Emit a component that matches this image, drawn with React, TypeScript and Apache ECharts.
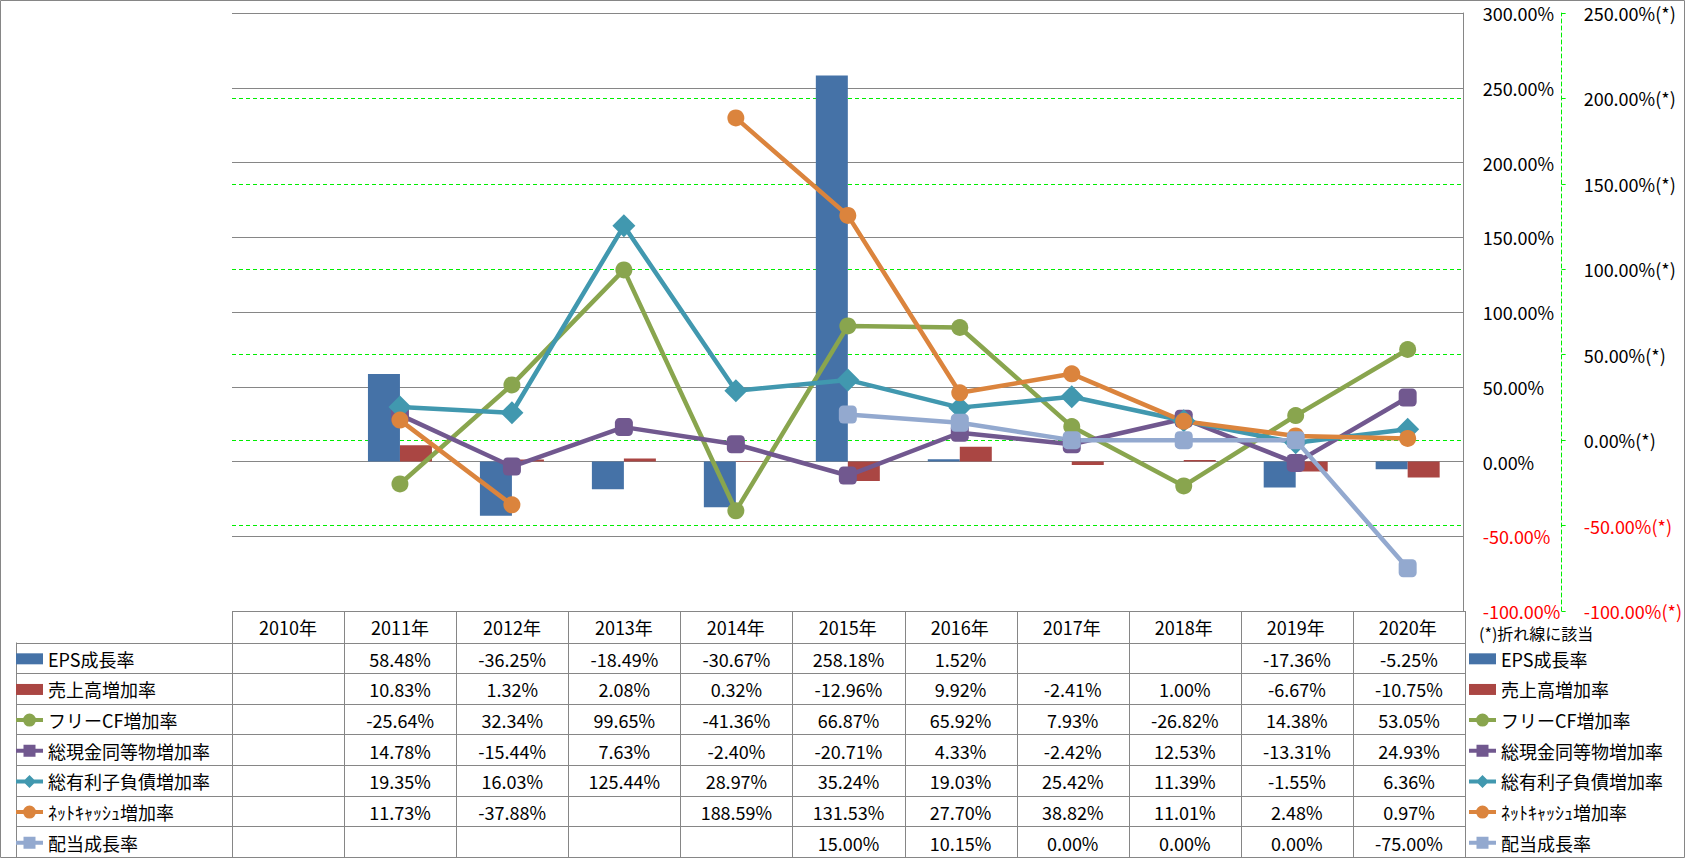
import React, { useEffect, useRef } from 'react';
import * as echarts from 'echarts';

const years = ['2010年', '2011年', '2012年', '2013年', '2014年', '2015年', '2016年', '2017年', '2018年', '2019年', '2020年'];

const epsGrowth = [null, 58.48, -36.25, -18.49, -30.67, 258.18, 1.52, null, null, -17.36, -5.25];
const salesGrowth = [null, 10.83, 1.32, 2.08, 0.32, -12.96, 9.92, -2.41, 1.0, -6.67, -10.75];
const freeCfGrowth = [null, -25.64, 32.34, 99.65, -41.36, 66.87, 65.92, 7.93, -26.82, 14.38, 53.05];
const cashGrowth = [null, 14.78, -15.44, 7.63, -2.4, -20.71, 4.33, -2.42, 12.53, -13.31, 24.93];
const debtGrowth = [null, 19.35, 16.03, 125.44, 28.97, 35.24, 19.03, 25.42, 11.39, -1.55, 6.36];
const netCashGrowth = [null, 11.73, -37.88, null, 188.59, 131.53, 27.7, 38.82, 11.01, 2.48, 0.97];
const dividendGrowth = [null, null, null, null, null, 15.0, 10.15, 0.0, 0.0, 0.0, -75.0];

const seriesNames = ['EPS成長率', '売上高増加率', 'フリーCF増加率', '総現金同等物増加率', '総有利子負債増加率', 'ﾈｯﾄｷｬｯｼｭ増加率', '配当成長率'];

const FONT = "'Noto Sans CJK JP', 'Noto Sans', sans-serif";

// legend key shapes (line + marker), drawn in a 27 x 13 box
const ICON_BAR = 'path://M0,1 L27,1 L27,12 L0,12 Z';
const ICON_LINE_CIRCLE =
  'path://M0,4.75 L27,4.75 L27,8.75 L0,8.75 Z M7,6.75 A6.5,6.5 0 1,1 20,6.75 A6.5,6.5 0 1,1 7,6.75 Z';
const ICON_LINE_SQUARE = 'path://M0,4.75 L27,4.75 L27,8.75 L0,8.75 Z M7.5,0.75 L19.5,0.75 L19.5,12.75 L7.5,12.75 Z';
const ICON_LINE_DIAMOND = 'path://M0,4.75 L27,4.75 L27,8.75 L0,8.75 Z M13.5,0.25 L20,6.75 L13.5,13.25 L7,6.75 Z';

export default function App() {
  const ref = useRef<HTMLDivElement>(null);

  useEffect(() => {
    const chart = echarts.init(ref.current!, null, { renderer: 'svg' });

    const W = 1685;
    const H = 858;
    const gridL = 232;
    const gridR = 1465;
    const gridT = 13;
    const gridB = 611;
    const colW = (gridR - gridL) / years.length;
    const headerB = 642.5;
    const tableBottom = 857;
    const rowH = (tableBottom - headerB) / 7;
    const gray = '#868686';
    const green = '#00ee00';

    const rows = [epsGrowth, salesGrowth, freeCfGrowth, cashGrowth, debtGrowth, netCashGrowth, dividendGrowth];

    const graphics: any[] = [];
    graphics.push({
      type: 'rect',
      shape: { x: 0.5, y: 0.5, width: W - 1, height: H - 1 },
      style: { fill: 'none', stroke: gray, lineWidth: 1 },
      silent: true,
    });
    graphics.push({
      type: 'line',
      shape: { x1: gridL, y1: gridB + 0.5, x2: gridR, y2: gridB + 0.5 },
      style: { stroke: gray, lineWidth: 1 },
      silent: true,
    });
    for (let k = 0; k < 7; k++) {
      const y = Math.round(headerB + k * rowH) + 0.5;
      graphics.push({
        type: 'line',
        shape: { x1: 16, y1: y, x2: gridR, y2: y },
        style: { stroke: gray, lineWidth: 1 },
        silent: true,
      });
    }
    graphics.push({
      type: 'line',
      shape: { x1: 16.5, y1: headerB, x2: 16.5, y2: tableBottom },
      style: { stroke: gray, lineWidth: 1 },
      silent: true,
    });
    for (let i = 0; i <= years.length; i++) {
      const x = Math.round(gridL + i * colW) + 0.5;
      graphics.push({
        type: 'line',
        shape: { x1: x, y1: gridB, x2: x, y2: tableBottom },
        style: { stroke: gray, lineWidth: 1 },
        silent: true,
      });
    }
    rows.forEach((row, r) => {
      row.forEach((v, i) => {
        if (v === null || v === undefined) return;
        graphics.push({
          type: 'text',
          x: gridL + (i + 0.5) * colW,
          y: headerB + (r + 0.5) * rowH + 1,
          style: {
            text: v.toFixed(2) + '%',
            fill: '#000',
            font: `18px ${FONT}`,
            align: 'center',
            verticalAlign: 'middle',
          },
          silent: true,
        });
      });
    });
    graphics.push({
      type: 'text',
      x: 1479,
      y: 633,
      style: {
        text: '(*)折れ線に該当',
        fill: '#000',
        font: `16px ${FONT}`,
        align: 'left',
        verticalAlign: 'middle',
      },
      silent: true,
    });

    const legendItemH = 18;
    const legendGap = rowH - legendItemH;
    const legendTop = headerB + rowH / 2 - legendItemH / 2 + 1;
    const icons = [ICON_BAR, ICON_BAR, ICON_LINE_CIRCLE, ICON_LINE_SQUARE, ICON_LINE_DIAMOND, ICON_LINE_CIRCLE, ICON_LINE_SQUARE];
    const legendData = seriesNames.map((n, i) => ({ name: n, icon: icons[i] }));
    const legendCommon = {
      orient: 'vertical',
      top: legendTop,
      padding: 0,
      itemWidth: 27,
      itemHeight: 13,
      itemGap: legendGap,
      selectedMode: false,
      data: legendData,
      textStyle: { fontSize: 18, lineHeight: 18, color: '#000', fontFamily: FONT },
    };

    const lineColors = ['#89A54E', '#71588F', '#4198AF', '#DB843D', '#93A9CF'];
    const lineData = [freeCfGrowth, cashGrowth, debtGrowth, netCashGrowth, dividendGrowth];
    const lineSymbols = ['circle', 'roundRect', 'diamond', 'circle', 'roundRect'];
    const lineSymbolSizes = [17, 18, 23, 17, 18];

    const option: any = {
      animation: false,
      backgroundColor: '#fff',
      textStyle: { fontFamily: FONT },
      grid: { left: gridL, right: W - gridR, top: gridT, bottom: H - gridB, containLabel: false },
      legend: [
        { ...legendCommon, left: 16 },
        { ...legendCommon, left: 1469 },
      ],
      xAxis: {
        type: 'category',
        data: years,
        boundaryGap: true,
        axisLine: { show: false },
        axisTick: { show: false },
        axisLabel: { show: true, margin: 7, fontSize: 18, color: '#000', fontFamily: FONT },
        splitLine: { show: false },
      },
      yAxis: [
        {
          type: 'value',
          position: 'right',
          min: -100,
          max: 300,
          interval: 50,
          axisLine: { show: true, lineStyle: { color: gray, width: 1 } },
          axisTick: { show: false },
          axisLabel: {
            margin: 19,
            fontSize: 18,
            fontFamily: FONT,
            formatter: (v: number) => v.toFixed(2) + '%',
            color: (v: any) => (Number(v) < 0 ? '#ff0000' : '#000'),
          },
          splitLine: { show: true, lineStyle: { color: gray, width: 1, type: 'solid' } },
        },
        {
          type: 'value',
          position: 'right',
          offset: 98,
          min: -100,
          max: 250,
          interval: 50,
          axisLine: { show: true, lineStyle: { color: green, width: 1, type: [4, 3] } },
          axisTick: { show: true, length: 4, inside: false, lineStyle: { color: green } },
          axisLabel: {
            margin: 22,
            fontSize: 18,
            fontFamily: FONT,
            formatter: (v: number) => v.toFixed(2) + '%(*)',
            color: (v: any) => (Number(v) < 0 ? '#ff0000' : '#000'),
          },
          splitLine: {
            show: true,
            showMinLine: false,
            showMaxLine: false,
            lineStyle: { color: green, width: 1, type: [4, 3] },
          },
        },
      ],
      series: [
        {
          name: seriesNames[0],
          type: 'bar',
          yAxisIndex: 0,
          data: epsGrowth,
          barWidth: 32,
          barGap: '0%',
          itemStyle: { color: '#4572A7' },
        },
        {
          name: seriesNames[1],
          type: 'bar',
          yAxisIndex: 0,
          data: salesGrowth,
          barWidth: 32,
          barGap: '0%',
          itemStyle: { color: '#AA4643' },
        },
        ...lineData.map((d, i) => ({
          name: seriesNames[i + 2],
          type: 'line',
          yAxisIndex: 1,
          data: d,
          connectNulls: false,
          symbol: lineSymbols[i],
          symbolSize: lineSymbolSizes[i],
          showSymbol: true,
          lineStyle: { color: lineColors[i], width: 4.5 },
          itemStyle: { color: lineColors[i] },
        })),
      ],
      graphic: graphics,
    };

    chart.setOption(option);
    return () => chart.dispose();
  }, []);

  return <div ref={ref} style={{ position: 'absolute', left: 0, top: 0, width: 1685, height: 858 }} />;
}
